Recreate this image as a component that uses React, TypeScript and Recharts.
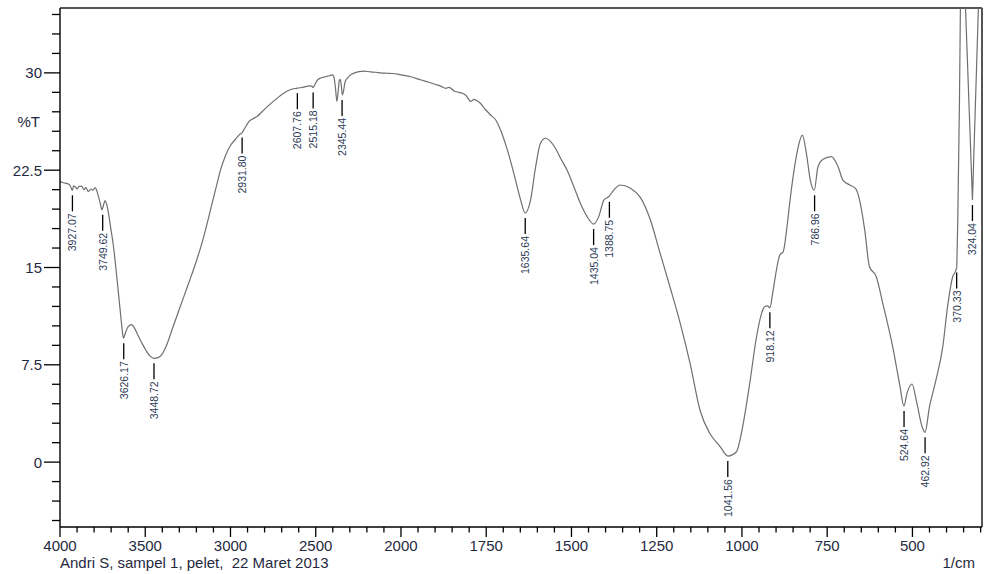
import React from 'react';
import { ComposedChart, Line, Scatter, XAxis, YAxis, ReferenceLine } from 'recharts';

const wavenumbers = [
  4000, 3985, 3970, 3951, 3940, 3932, 3927, 3921, 3910, 3900, 3888, 3872, 3860, 3848, 3833, 3820, 3808, 3794, 3785, 3775,
  3763, 3754, 3745, 3736, 3727, 3716, 3702, 3686, 3667, 3647, 3636, 3628, 3618, 3600, 3580, 3560, 3540, 3519, 3495, 3470,
  3450, 3425, 3402, 3375, 3343, 3300, 3245, 3200, 3167, 3135, 3108, 3080, 3059, 3030, 3000, 2970, 2950, 2932, 2915, 2892,
  2870, 2843, 2815, 2784, 2740, 2686, 2650, 2608, 2570, 2540, 2525, 2515, 2505, 2490, 2471, 2440, 2420, 2402, 2392, 2384,
  2376, 2369, 2362, 2356, 2349, 2344, 2337, 2328, 2314, 2290, 2275, 2245, 2216, 2180, 2150, 2118, 2080, 2050, 2020, 2000,
  1971, 1941, 1920, 1903, 1885, 1868, 1859, 1844, 1830, 1820, 1810, 1795, 1786, 1771, 1751, 1737, 1722, 1708, 1688, 1669,
  1649, 1636, 1620, 1605, 1591, 1576, 1561, 1547, 1532, 1513, 1493, 1474, 1454, 1435, 1420, 1405, 1391, 1376, 1357, 1327,
  1298, 1269, 1240, 1211, 1181, 1152, 1123, 1094, 1064, 1041, 1016, 1005, 996, 977, 957, 942, 933, 925, 918, 910,
  904, 889, 879, 869, 860, 850, 835, 823, 811, 800, 788, 777, 762, 738, 718, 704, 684, 667, 655, 640,
  626, 606, 587, 558, 538, 525, 516, 501, 489, 470, 463, 450, 431, 411, 397, 382, 374, 370, 367, 362,
  359, 352, 345, 324, 306, 296,
];

const transmittance = [
  21.62, 21.55, 21.5, 21.44, 21.3, 21.05, 20.95, 21.3, 21.2, 21.05, 21.25, 21.25, 21.0, 21.15, 20.85, 21.05, 20.95, 21.15, 20.95, 20.5,
  19.9, 19.45, 19.8, 20.15, 19.9, 19.2, 18.0, 16.6, 14.3, 11.7, 10.3, 9.55, 9.9, 10.45, 10.6, 10.25, 9.7, 9.16, 8.6, 8.15,
  8.0, 8.05, 8.3, 9.0, 10.2, 11.8, 13.8, 15.5, 16.9, 18.5, 19.95, 21.4, 22.5, 23.6, 24.4, 24.9, 25.2, 25.4, 25.75, 26.25,
  26.45, 26.65, 27.0, 27.4, 27.9, 28.45, 28.7, 28.82, 28.9, 29.0, 28.98, 28.88, 29.1, 29.45, 29.6, 29.72, 29.78, 29.85, 29.6, 28.8,
  27.8, 28.5, 29.4, 29.5, 28.9, 28.3, 28.6, 29.3, 29.6, 29.9, 29.98, 30.1, 30.14, 30.08, 30.05, 30.0, 29.97, 29.95, 29.9, 29.85,
  29.7, 29.45, 29.3, 29.14, 29.0, 28.81, 28.89, 28.6, 28.5, 28.43, 28.28, 27.8, 27.96, 27.75, 27.14, 26.75, 26.37, 25.6, 24.06, 22.26,
  20.2, 19.2, 20.2, 22.77, 24.57, 24.96, 24.7, 24.19, 23.42, 22.51, 21.23, 19.95, 18.92, 18.35, 18.92, 20.2, 20.45, 20.97, 21.36, 21.1,
  20.4, 18.7, 16.1, 13.5, 10.7, 7.6, 4.0, 2.2, 1.2, 0.47, 0.8, 1.8, 3.0, 6.1, 9.7, 11.5, 12.0, 12.05, 11.9, 13.0,
  14.0, 15.96, 16.22, 17.9, 19.95, 22.0, 24.3, 25.2, 23.8, 21.8, 20.95, 22.77, 23.34, 23.54, 22.77, 21.74, 21.36, 21.1, 20.2, 17.9,
  15.06, 14.29, 12.24, 8.9, 6.07, 4.33, 5.3, 6.02, 4.79, 2.6, 2.3, 4.27, 6.33, 8.9, 11.98, 14.29, 14.68, 15.0, 18.7, 28,
  36, 40, 35.5, 20.2, 35.5, 39,
];

// below this wavenumber the trace is drawn with straight segments (sharp V band)
const SHARP_BELOW = 370;

const peakWavenumbers = [3927.07, 3749.62, 3626.17, 3448.72, 2931.8, 2607.76, 2515.18, 2345.44, 1635.64, 1435.04, 1388.75, 1041.56, 918.12, 786.96, 524.64, 462.92, 370.33, 324.04];
const peakTransmittance = [20.95, 19.45, 9.55, 8.0, 25.4, 28.82, 28.88, 28.3, 19.2, 18.35, 20.45, 0.47, 11.93, 20.95, 4.33, 2.3, 15.0, 20.2];
const peakLabels = ['3927.07', '3749.62', '3626.17', '3448.72', '2931.80', '2607.76', '2515.18', '2345.44', '1635.64', '1435.04', '1388.75', '1041.56', '918.12', '786.96', '524.64', '462.92', '370.33', '324.04'];

const xMajorTicks = [4000, 3500, 3000, 2500, 2000, 1750, 1500, 1250, 1000, 750, 500];
const xMinorTicks = [3900, 3800, 3700, 3600, 3400, 3300, 3200, 3100, 2900, 2800, 2700, 2600, 2400, 2300, 2200, 2100,
  1950, 1900, 1850, 1800, 1700, 1650, 1600, 1550, 1450, 1400, 1350, 1300, 1200, 1150, 1100, 1050,
  950, 900, 850, 800, 700, 650, 600, 550, 450, 400, 350, 300];
const yTicks = [-4.5, -3, -1.5, 0, 1.5, 3, 4.5, 6, 7.5, 9, 10.5, 12, 13.5, 15, 16.5, 18, 19.5, 21, 22.5, 24, 25.5, 27, 28.5, 30, 31.5, 33, 34.5];
const yMajorTicks = [0, 7.5, 15, 22.5, 30];

const X_START = 4000;
const X_END = 296;
const Y_MIN = -5;
const Y_MAX = 35;

// Spectrometer axis: compressed by 2 above 2000 1/cm
const toU = (w: number) => (w <= 2000 ? w : 2000 + (w - 2000) / 2);
const fromU = (u: number) => (u <= 2000 ? u : 2000 + (u - 2000) * 2);

const curveMain = wavenumbers
  .map((w, i) => ({ w, u: toU(w), v: transmittance[i] }))
  .filter((p) => p.w >= SHARP_BELOW);
const curveTail = wavenumbers
  .map((w, i) => ({ w, u: toU(w), v: transmittance[i] }))
  .filter((p) => p.w <= SHARP_BELOW);
const peaks = peakWavenumbers.map((w, i) => ({ u: toU(w), v: peakTransmittance[i], label: peakLabels[i] }));
const xTicksU = [...xMajorTicks, ...xMinorTicks].sort((a, b) => b - a).map(toU);

const FONT = '"Liberation Sans", Arial, sans-serif';
const TICK_COLOR = '#1f2940';
const CURVE_COLOR = '#6f6f6f';

const XTick = (props: any) => {
  const { x, y, payload } = props;
  const w = fromU(payload.value);
  const major = xMajorTicks.some((t) => Math.abs(t - w) < 0.5);
  return (
    <g>
      <line x1={x} x2={x} y1={y} y2={y + (major ? 10 : 5.5)} stroke="#000" strokeWidth={1.3} />
      {major && (
        <text x={x} y={y + 24} textAnchor="middle" fontSize={15} fontFamily={FONT} fill={TICK_COLOR}>
          {Math.round(w)}
        </text>
      )}
    </g>
  );
};

const YTick = (props: any) => {
  const { x, y, payload } = props;
  const v = payload.value;
  const major = yMajorTicks.some((t) => Math.abs(t - v) < 0.01);
  return (
    <g>
      <line x1={x - (major ? 16 : 8)} x2={x} y1={y} y2={y} stroke="#000" strokeWidth={1.3} />
      {major && (
        <text x={x - 18} y={y} textAnchor="end" dominantBaseline="central" fontSize={15} fontFamily={FONT} fill={TICK_COLOR}>
          {String(v)}
        </text>
      )}
    </g>
  );
};

const PeakMarker = (props: any) => {
  const { cx, cy, payload } = props;
  if (cx == null || cy == null) return null;
  const top = cy + 5;
  const bot = cy + 21;
  const ty = cy + 23;
  return (
    <g>
      <line x1={cx} x2={cx} y1={top} y2={bot} stroke="#000" strokeWidth={1.3} />
      <text
        x={cx}
        y={ty}
        transform={`rotate(-90 ${cx} ${ty})`}
        textAnchor="end"
        dominantBaseline="central"
        fontSize={10.5}
        fontFamily={FONT}
        fill="#2b3a55"
      >
        {payload.label}
      </text>
    </g>
  );
};

export default function App() {
  return (
    <div style={{ position: 'absolute', left: 0, top: 0, width: 986, height: 574, background: '#fff', fontFamily: FONT }}>
      <ComposedChart width={986} height={574} margin={{ top: 8, right: 4, bottom: 0, left: 0 }}>
        <XAxis
          type="number"
          dataKey="u"
          domain={[toU(X_END), toU(X_START)]}
          reversed
          allowDataOverflow
          ticks={xTicksU}
          interval={0}
          tickSize={0}
          tickMargin={0}
          tickLine={false}
          tick={<XTick />}
          height={47}
          axisLine={{ stroke: '#000', strokeWidth: 1.4 }}
        />
        <YAxis
          type="number"
          domain={[Y_MIN, Y_MAX]}
          allowDataOverflow
          ticks={yTicks}
          interval={0}
          tickSize={0}
          tickMargin={0}
          tickLine={false}
          tick={<YTick />}
          width={60}
          axisLine={{ stroke: '#000', strokeWidth: 1.4 }}
        />
        <ReferenceLine y={Y_MAX} stroke="#555" strokeWidth={2} />
        <ReferenceLine x={toU(X_END)} stroke="#555" strokeWidth={2} />
        <Line
          data={curveMain}
          dataKey="v"
          type="monotone"
          stroke={CURVE_COLOR}
          strokeWidth={1.2}
          dot={false}
          activeDot={false}
          isAnimationActive={false}
        />
        <Line
          data={curveTail}
          dataKey="v"
          type="linear"
          stroke={CURVE_COLOR}
          strokeWidth={1.2}
          dot={false}
          activeDot={false}
          isAnimationActive={false}
        />
        <Scatter data={peaks} dataKey="v" shape={<PeakMarker />} isAnimationActive={false} />
      </ComposedChart>
      <div style={{ position: 'absolute', left: 0, width: 40, top: 113, fontSize: 15, textAlign: 'right', color: TICK_COLOR, lineHeight: '18px' }}>%T</div>
      <div style={{ position: 'absolute', left: 60, top: 554, fontSize: 15, whiteSpace: 'pre', color: TICK_COLOR, lineHeight: '18px' }}>
        Andri S, sampel 1, pelet,  22 Maret 2013
      </div>
      <div style={{ position: 'absolute', right: 11, top: 554, fontSize: 15, color: TICK_COLOR, lineHeight: '18px' }}>1/cm</div>
    </div>
  );
}
